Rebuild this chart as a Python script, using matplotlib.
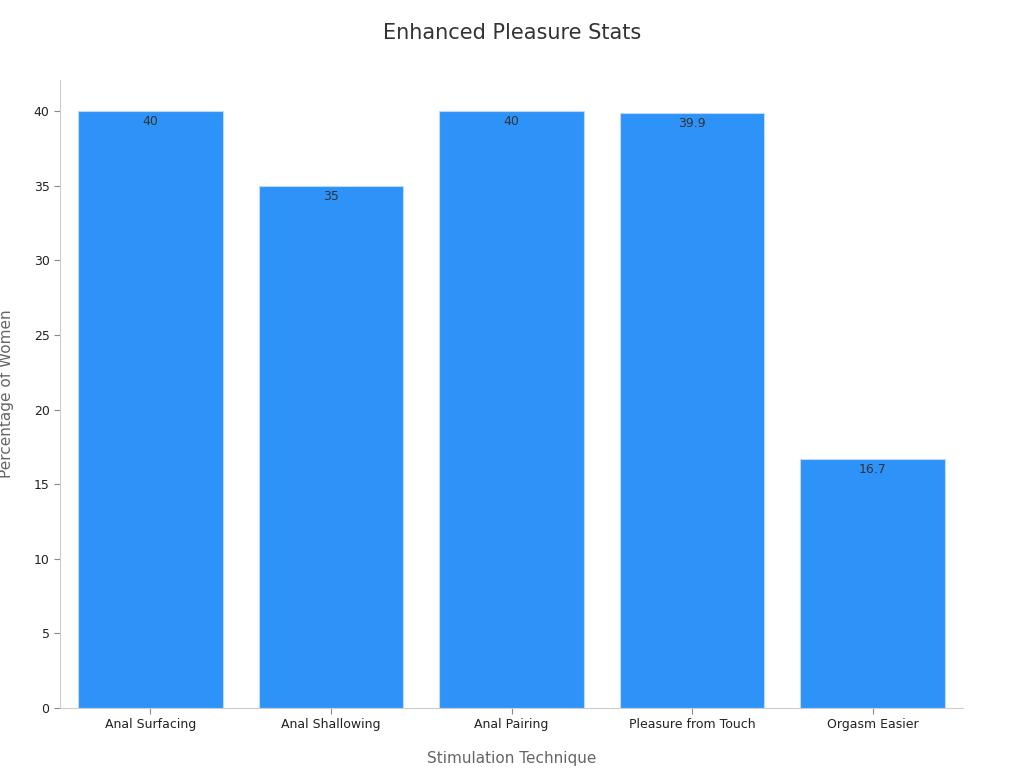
import matplotlib
matplotlib.use("Agg")
import matplotlib.pyplot as plt

categories = ["Anal Surfacing", "Anal Shallowing", "Anal Pairing", "Pleasure from Touch", "Orgasm Easier"]
values = [40, 35, 40, 39.9, 16.7]
labels = ["40", "35", "40", "39.9", "16.7"]
yticks = [0, 5, 10, 15, 20, 25, 30, 35, 40]

fig = plt.figure(figsize=(10.24, 7.68), dpi=100)
ax = fig.add_axes([60/1024, 60/768, 903/1024, 628/768])
bars = ax.bar(range(len(categories)), values, width=0.8, color="#2E93F8", edgecolor="#BFD9F5", linewidth=0.8)
for b, t in zip(bars, labels):
    ax.text(b.get_x() + b.get_width()/2, b.get_height() - 0.25, t, ha="center", va="top", fontsize=9, color="#333333")
ax.set_xlim(-0.5, 4.5)
ax.set_ylim(0, 42.1)
ax.set_xticks(range(len(categories)))
ax.set_xticklabels(categories, fontsize=9, color="#222222")
ax.set_yticks(yticks)
ax.set_yticklabels([str(v) for v in yticks], fontsize=9, color="#222222")
for s in ["top", "right"]:
    ax.spines[s].set_visible(False)
for s in ["left", "bottom"]:
    ax.spines[s].set_color("#CCCCCC")
ax.tick_params(colors="#888888", labelcolor="#222222", length=4)
ax.set_xlabel("Stimulation Technique", fontsize=11, color="#666666", labelpad=14)
ax.set_ylabel("Percentage of Women", fontsize=11, color="#666666", labelpad=14)
fig.text(0.5, 1 - 33/768, "Enhanced Pleasure Stats", ha="center", va="center", fontsize=15, color="#333333")
fig.savefig("out.png", dpi=100)
